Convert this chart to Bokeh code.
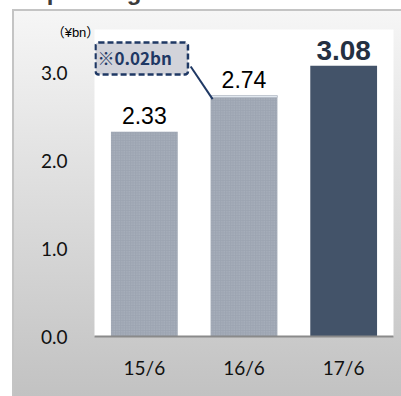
from bokeh.plotting import figure
from bokeh.models import (ColumnDataSource, FactorRange, Range1d, FixedTicker,
                          NumeralTickFormatter, LabelSet, Label)
from bokeh.core.properties import value
from bokeh.embed import file_html
from bokeh.resources import INLINE

# ---- data -------------------------------------------------------------
periods = ["15/6", "16/6", "17/6"]
operating_income = [2.33, 2.74, 3.08]      # ¥bn, full-year totals
one_off = [0.0, 0.02, 0.0]                 # ※ portion stacked on top
value_labels = ["2.33", "2.74", "3.08"]
y_ticks = [0.0, 1.0, 2.0, 3.0]
title_text = "■Operating income"
unit_text = "（¥bn）"
note_text = "※0.02bn"

# ---- layout -----------------------------------------------------------
W, H = 401, 396
FRAME_L, FRAME_R, FRAME_T, FRAME_B = 94, 393, 29, 338
PX_PER_UNIT = 88.5
y_top = (FRAME_B - FRAME_T) / PX_PER_UNIT
BAR_W = 0.67
NAVY = "#1f3864"

p = figure(width=W, height=H,
           x_range=FactorRange(factors=periods, range_padding=0),
           y_range=Range1d(0, y_top),
           output_backend="svg", toolbar_location=None,
           min_border_left=FRAME_L, min_border_right=W - FRAME_R,
           min_border_top=FRAME_T, min_border_bottom=H - FRAME_B)

p.background_fill_color = "#ffffff"
p.border_fill_color = None
p.outline_line_color = None
p.xgrid.visible = False
p.ygrid.visible = False

# grey gradient panel behind the plot area, with a thin left/top border
p.styles = {
    "background": (
        "linear-gradient(#f6f6f6, #c2c2c2) 14px 11px / 387px 385px no-repeat, "
        "linear-gradient(#c4c4c4, #c4c4c4) 12px 9px / 389px 387px no-repeat, "
        "#ffffff"
    )
}

# ---- bars -------------------------------------------------------------
base_top = [round(v - a, 4) for v, a in zip(operating_income, one_off)]

past = ColumnDataSource(dict(x=periods[:2], top=base_top[:2]))
p.vbar(x="x", top="top", width=BAR_W, source=past,
       fill_color="#9da5b2", line_color=None,
       hatch_pattern="dot", hatch_color="#bcc2cc", hatch_scale=2.5,
       hatch_weight=1, hatch_alpha=0.6)

extra_idx = [i for i, a in enumerate(one_off) if a > 0]
extra = ColumnDataSource(dict(x=[periods[i] for i in extra_idx],
                              bottom=[base_top[i] for i in extra_idx],
                              top=[operating_income[i] for i in extra_idx]))
p.vbar(x="x", bottom="bottom", top="top", width=BAR_W, source=extra,
       fill_color="#eef6fb", line_color="#aeb6c2", line_width=0.8)

current = ColumnDataSource(dict(x=periods[2:], top=operating_income[2:]))
p.vbar(x="x", top="top", width=BAR_W, source=current,
       fill_color="#435369", line_color=None)

# ---- value labels -----------------------------------------------------
past_lbl = ColumnDataSource(dict(x=periods[:2], y=operating_income[:2],
                                 text=value_labels[:2]))
p.add_layout(LabelSet(x="x", y="y", text="text", source=past_lbl,
                      y_offset=8, text_align="center",
                      text_baseline="alphabetic",
                      text_font=value("Liberation Sans"),
                      text_font_size="23px", text_color="#000000"))

cur_lbl = ColumnDataSource(dict(x=periods[2:], y=operating_income[2:],
                                text=value_labels[2:]))
p.add_layout(LabelSet(x="x", y="y", text="text", source=cur_lbl,
                      y_offset=6, text_align="center",
                      text_baseline="alphabetic",
                      text_font=value("Liberation Sans"),
                      text_font_style="bold",
                      text_font_size="28px", text_color="#243042"))

# ---- axes -------------------------------------------------------------
p.yaxis.ticker = FixedTicker(ticks=y_ticks)
p.yaxis.formatter = NumeralTickFormatter(format="0.0")
p.yaxis.axis_line_color = None
p.yaxis.major_tick_line_color = None
p.yaxis.minor_tick_line_color = None
p.yaxis.major_label_standoff = 21
p.yaxis.major_label_text_font = "Lato"
p.yaxis.major_label_text_font_size = "19px"
p.yaxis.major_label_text_color = "#111111"

p.xaxis.axis_line_color = "#8a8a8a"
p.xaxis.axis_line_width = 2
p.xaxis.major_tick_line_color = None
p.xaxis.minor_tick_line_color = None
p.xaxis.major_label_standoff = 13
p.xaxis.major_label_text_font = "Lato"
p.xaxis.major_label_text_font_size = "19px"
p.xaxis.major_label_text_color = "#111111"

# ---- annotations ------------------------------------------------------
# Texts outside the plot area live in side panels (not clipped to the frame);
# their screen offsets are measured from that panel's left / bottom edges.
# The heading sits at the very top edge of the page, so only its lower part shows.
p.add_layout(Label(x=13 - FRAME_L, y=38, x_units="screen",
                   y_units="screen", text=title_text,
                   text_font="Liberation Sans", text_font_style="bold",
                   text_font_size="24px", text_color="#3c3c3c",
                   text_baseline="alphabetic", text_align="left"), "above")

p.add_layout(Label(x=75 - FRAME_L, y=364, x_units="screen",
                   y_units="screen", text=unit_text,
                   text_font="'Liberation Sans', 'Noto Sans CJK JP'",
                   text_font_size="13px",
                   text_color="#000000", text_baseline="middle",
                   text_align="center"), "below")

# leader line from the note box to the stacked segment of 16/6
p.segment(x0=[0.965], y0=[3.07], x1=[1.185], y1=[2.70],
          line_color=NAVY, line_width=2)

p.add_layout(Label(x=95 - FRAME_L, y=FRAME_B - 60, x_units="screen",
                   y_units="screen", text=note_text,
                   text_font="Noto Sans CJK JP", text_font_style="bold",
                   text_font_size="17px", text_color=NAVY,
                   text_baseline="middle", text_align="left",
                   background_fill_color="#d2d3da",
                   border_line_color=NAVY, border_line_width=2.5,
                   border_line_dash="6 3", border_radius=3,
                   padding=(2, 16, 2, 5)))

open("out.html", "w").write(file_html(p, INLINE))
